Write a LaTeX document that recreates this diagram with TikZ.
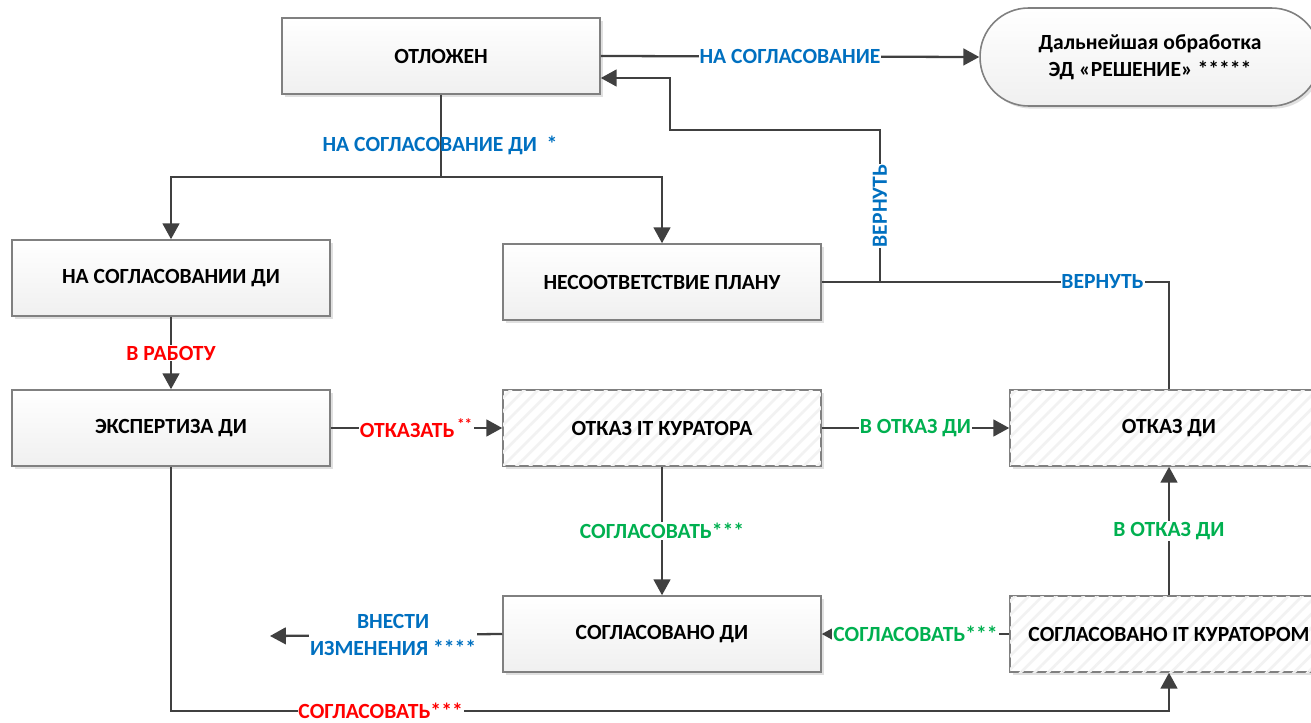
\documentclass[tikz,border=0pt]{standalone}
\usepackage{fontspec}
\setmainfont{Carlito}
\usetikzlibrary{arrows.meta,shadows,patterns.meta}

\definecolor{wirecol}{HTML}{404040}
\definecolor{linkblue}{HTML}{0070C0}
\definecolor{refred}{HTML}{FF0000}
\definecolor{okgreen}{HTML}{00B050}

\tikzset{
  state/.style={draw=black!50, line width=0.9pt, minimum width=6.36cm, minimum height=1.52cm,
    top color=white, bottom color=black!6,
    drop shadow={shadow xshift=1.5pt, shadow yshift=-1.5pt, fill=black!12, opacity=1}},
  hatch/.style={draw=black!50, line width=0.9pt, minimum width=6.36cm, minimum height=1.52cm,
    fill=white, drop shadow={shadow xshift=1.5pt, shadow yshift=-1.5pt, fill=black!12, opacity=1},
    postaction={pattern={Lines[angle=45,distance=5.5pt,line width=1.5pt]}, pattern color=black!5}},
  term/.style={draw=black!50, line width=0.9pt, minimum width=6.8cm, minimum height=1.96cm,
    rounded corners=0.97cm, align=center, top color=white, bottom color=black!6,
    drop shadow={shadow xshift=1.5pt, shadow yshift=-1.5pt, fill=black!12, opacity=1}},
  wire/.style={draw=wirecol, line width=1.3pt},
  arr/.style={wire, -{Triangle[length=9pt,width=9.5pt]}},
  lab/.style={fill=white, inner sep=0.5pt}
}

\begin{document}
\begin{tikzpicture}[x=0.02cm, y=-0.02cm, font=\bfseries\fontsize{12.3}{15.5}\selectfont]
\clip (0,0) rectangle (1311,723);

\node[state] (otl) at (441,56) {ОТЛОЖЕН};
\node[term] (ed) at (1150,57) {Дальнейшая обработка\\ЭД «РЕШЕНИЕ» *****};
\node[state] (nsd) at (171,278) {НА СОГЛАСОВАНИИ ДИ};
\node[state] (nsp) at (662,282) {НЕСООТВЕТСТВИЕ ПЛАНУ};
\node[state] (exp) at (171,428) {ЭКСПЕРТИЗА ДИ};
\node[hatch] (oitk) at (662,428) {ОТКАЗ IT КУРАТОРА};
\node[hatch] (odi) at (1169,428) {ОТКАЗ ДИ};
\node[state] (sdi) at (662,634) {СОГЛАСОВАНО ДИ};
\node[hatch] (sitk) at (1169,634) {СОГЛАСОВАНО IT КУРАТОРОМ};

\draw[arr] (otl.east) -- node[lab,text=linkblue] {НА СОГЛАСОВАНИЕ} (ed.west);

\coordinate (split) at (441,177);
\draw[wire] (otl.south) -- (split);
\draw[arr] (split) -| (nsd.north);
\draw[arr] (split) -| (nsp.north);
\node[text=linkblue] (lsogl) at (440,145) {НА СОГЛАСОВАНИЕ ДИ\ \ *};

\draw[arr] (nsd) -- node[lab,text=refred] {В РАБОТУ} (exp);

% return path to ОТЛОЖЕН
\coordinate (c1) at (odi.north |- nsp.east);
\coordinate (c2) at (880,282);
\coordinate (c3) at (880,130);
\coordinate (c4) at (670,130);
\coordinate (c5) at (670,78);
\coordinate (c6) at (otl.east |- c5);
\draw[arr] (odi.north) -- (c1) -- node[lab,pos=0.23,text=linkblue] {ВЕРНУТЬ} (c2)
  -- node[lab,rotate=90,text=linkblue] {ВЕРНУТЬ} (c3) -- (c4) -- (c5) -- (c6);
\draw[wire] (nsp.east) -- (c2);

\draw[arr] (exp) -- node[lab,text=refred] {ОТКАЗАТЬ\textsuperscript{\,**}} (oitk);
\draw[arr] (oitk) -- node[lab,text=okgreen] {В ОТКАЗ ДИ} (odi);
\draw[arr] (oitk) -- node[lab,text=okgreen] {СОГЛАСОВАТЬ***} (sdi);
\draw[arr] (sitk) -- node[lab,text=okgreen] {СОГЛАСОВАТЬ***} (sdi);
\draw[arr] (sitk) -- node[lab,text=okgreen] {В ОТКАЗ ДИ} (odi);

\coordinate (vnes) at (270,636);
\draw[arr] (sdi.west) -- node[lab,pos=0.47,align=center,text=linkblue] {ВНЕСТИ\\ИЗМЕНЕНИЯ ****} (vnes);

\coordinate (b1) at (171,711);
\coordinate (b2) at (1169,711);
\draw[arr] (exp.south) -- (b1) -- node[lab,pos=0.21,text=refred] {СОГЛАСОВАТЬ***} (b2) -- (sitk.south);
\end{tikzpicture}
\end{document}
